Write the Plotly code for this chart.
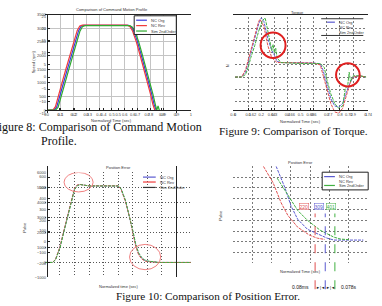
import plotly.graph_objects as go

W, H = 382, 306
def px(x): return x / W
def py(y): return 1 - y / H

# ---------------- Figure 8: command motion profile ----------------
sp_t_org = [0, 0.05, 0.07, 0.09, 0.12, 0.15, 0.18, 0.21, 0.24, 0.26, 0.28, 0.63, 0.65, 0.67, 0.70, 0.73, 0.76, 0.79, 0.81, 0.83, 0.845]
sp_org   = [0, 0, 120, 420, 950, 1450, 1950, 2450, 2900, 3070, 3100, 3100, 3050, 2900, 2500, 2000, 1500, 1000, 600, 200, 0]
sp_t_rev = [0, 0.04, 0.06, 0.08, 0.11, 0.14, 0.17, 0.20, 0.23, 0.25, 0.27, 0.62, 0.64, 0.66, 0.69, 0.72, 0.75, 0.78, 0.80, 0.82, 0.835]
sp_rev   = [0, 0, 130, 440, 980, 1480, 1980, 2480, 2920, 3080, 3110, 3110, 3060, 2910, 2510, 2010, 1510, 1010, 610, 210, 0]
sp_t_sim = [0, 0.06, 0.08, 0.10, 0.13, 0.16, 0.19, 0.22, 0.25, 0.27, 0.29, 0.64, 0.66, 0.68, 0.71, 0.74, 0.77, 0.80, 0.82, 0.84, 0.85, 0.86, 0.87]
sp_sim   = [0, 0, 100, 400, 920, 1420, 1920, 2420, 2880, 3050, 3090, 3090, 3040, 2890, 2490, 1990, 1490, 990, 590, 190, 0, 160, 0]
sp_ticks = [0, 500, 1000, 1500, 2000, 2500, 3000, 3500]

# ---------------- Figure 9: torque ----------------
tq_t_org = [0, 0.05, 0.08, 0.10, 0.12, 0.15, 0.18, 0.20, 0.22, 0.25, 0.28, 0.30, 0.32, 0.35, 0.40, 0.50, 0.60, 0.65, 0.67, 0.70, 0.73, 0.76, 0.79, 0.82, 0.85, 0.88, 0.90, 0.95, 1.0]
tq_org   = [0, 0, 2, 6, 10, 16, 22, 24.5, 23, 16, 11, 9, 6.5, 6, 6, 5.8, 5.8, 5.5, 3, -3, -9, -12, -12.5, -11, -6, -2, 0, 0.5, 0]
tq_t_rev = [0, 0.05, 0.08, 0.10, 0.12, 0.15, 0.18, 0.19, 0.22, 0.25, 0.28, 0.30, 0.32, 0.35, 0.40, 0.50, 0.60, 0.65, 0.67, 0.70, 0.73, 0.76, 0.79, 0.82, 0.85, 0.88, 0.90, 0.95, 1.0]
tq_rev   = [0, 0, 3, 7, 11, 18, 23, 24, 21, 13, 8, 7, 6, 6, 6, 5.8, 5.8, 5, 1, -5, -11, -14.5, -15, -13, -7, -2, 0, 0.5, 0]
tq_t_sim = [0, 0.05, 0.08, 0.10, 0.12, 0.15, 0.18, 0.21, 0.23, 0.25, 0.27, 0.28, 0.29, 0.30, 0.31, 0.32, 0.35, 0.40, 0.50, 0.60, 0.65, 0.68, 0.70, 0.73, 0.76, 0.79, 0.82, 0.84, 0.86, 0.87, 0.88, 0.90, 0.95, 1.0]
tq_sim   = [0, 0, 1, 4, 8, 13, 19, 23.5, 24.5, 19, 14, 11, 13.5, 10, 12, 8, 6, 5.8, 5.6, 5.6, 5.6, 4, -1, -7, -11, -13, -12, -5, -3, 2, -2, 0.5, 0.5, 0]
tq_ticks = [-15, -10, -5, 0, 5, 10, 15, 20, 25]

# ---------------- Figure 10: position error ----------------
pe_t_org = [0, 0.05, 0.07, 0.10, 0.13, 0.15, 0.17, 0.20, 0.22, 0.24, 0.27, 0.30, 0.50, 0.52, 0.55, 0.58, 0.60, 0.62, 0.64, 0.66, 0.68, 0.70, 0.75, 0.78, 1.0]
pe_org   = [0, 0, 200, 1000, 2200, 3000, 3900, 4900, 5150, 5200, 5150, 5100, 5100, 4900, 4100, 3000, 2100, 1200, 600, 300, 150, 80, 40, 0, 0]
pe_t_rev = [0, 0.05, 0.07, 0.10, 0.13, 0.15, 0.17, 0.20, 0.22, 0.24, 0.27, 0.30, 0.50, 0.52, 0.55, 0.58, 0.60, 0.62, 0.64, 0.66, 0.68, 0.70, 0.75, 0.78, 1.0]
pe_rev   = [0, 0, 220, 1050, 2250, 3050, 3950, 4950, 5180, 5200, 5150, 5110, 5110, 4880, 4050, 2950, 2000, 1100, 520, 250, 110, 50, 20, 0, 0]
pe_t_sim = [0, 0.05, 0.07, 0.10, 0.13, 0.15, 0.17, 0.20, 0.22, 0.24, 0.27, 0.30, 0.50, 0.52, 0.55, 0.58, 0.60, 0.62, 0.64, 0.66, 0.68, 0.70, 0.75, 0.78, 1.0]
pe_sim   = [0, 0, 180, 950, 2150, 2950, 3850, 4850, 5120, 5190, 5150, 5100, 5100, 4920, 4150, 3050, 2150, 1250, 650, 350, 180, 100, 50, 0, 0]
pe_ticks = [-1000, 0, 1000, 2000, 3000, 4000, 5000, 6000]

# ---------------- zoomed position error ----------------
zp_t_org = [0.6446, 0.6538, 0.6599, 0.667, 0.6771, 0.6903, 0.6974, 0.7045, 0.72, 0.735]
zp_org   = [700, 500, 335, 208, 116, 62, 34, 16, 16, 16]
zp_t_rev = [0.6314, 0.6416, 0.6497, 0.6568, 0.667, 0.6791, 0.6872, 0.695]
zp_rev   = [700, 545, 363, 244, 135, 62, 34, 22]
zp_t_sim = [0.6457, 0.6568, 0.667, 0.6771, 0.6903, 0.7045, 0.7116, 0.72]
zp_sim   = [590, 427, 290, 199, 107, 43, 25, 20]
zp_xticks = [0.6, 0.62, 0.64, 0.66, 0.68, 0.70, 0.72, 0.74]
zp_yticks = [-200, -100, 0, 100, 200, 300, 400, 500, 600]

names = ["NC Org", "NC Rev", "Sim 2ndOrder"]
C_BLUE, C_RED, C_GREEN = "#3a3ae0", "#f03c3c", "#2eaa2e"
C_BLUE2, C_RED2, C_GREEN2 = "#5a5ad0", "#e05050", "#40b040"

fig = go.Figure()
def add(x, y, name, color, n, dash="solid", w=1.2):
    fig.add_trace(go.Scatter(x=x, y=y, name=name, mode="lines",
                             line=dict(color=color, width=w, dash=dash),
                             xaxis="x" if n == 1 else f"x{n}",
                             yaxis="y" if n == 1 else f"y{n}",
                             showlegend=False))

add(sp_t_org, sp_org, names[0], C_BLUE, 1)
add(sp_t_rev, sp_rev, names[1], C_RED, 1)
add(sp_t_sim, sp_sim, names[2], C_GREEN, 1)
add(tq_t_org, tq_org, names[0], C_BLUE2, 2, "3px,1px", 1)
add(tq_t_rev, tq_rev, names[1], C_RED2, 2, "3px,1px", 1)
add(tq_t_sim, tq_sim, names[2], C_GREEN2, 2, "3px,1px", 1)
add(pe_t_org, pe_org, names[0], C_BLUE2, 3, "3px,1px", 1)
add(pe_t_rev, pe_rev, names[1], C_RED2, 3, "3px,1px", 1)
add(pe_t_sim, pe_sim, names[2], C_GREEN2, 3, "3px,1px", 1)
add(zp_t_org, zp_org, names[0], C_BLUE2, 4, "3px,1px", 1)
add(zp_t_rev, zp_rev, names[1], C_RED2, 4, "3px,1px", 1)
add(zp_t_sim, zp_sim, names[2], C_GREEN2, 4, "3px,1px", 1)

TF = dict(family="Liberation Sans", size=4, color="#444")
def axis(dom, rng, tickvals, grid_dash, gridcolor, ticktext=None):
    d = dict(domain=dom, range=rng, tickvals=tickvals, tickfont=TF,
             showgrid=True, gridcolor=gridcolor, griddash=grid_dash, gridwidth=1,
             showline=True, mirror=True, linecolor="#222", linewidth=1,
             ticks="inside", ticklen=2, tickcolor="#222", zeroline=False,
             ticklabelstandoff=0)
    if ticktext is not None:
        d["ticktext"] = ticktext
    return d

xt = [round(0.1 * i, 1) for i in range(11)]
xtt = ["0", "0.1", "0.2", "0.3", "0.4", "0.5", "0.6", "0.7", "0.8", "0.9", "1"]

fig.update_layout(
    width=W, height=H, margin=dict(l=0, r=0, t=0, b=0),
    paper_bgcolor="white", plot_bgcolor="white", showlegend=False,
    xaxis=axis([px(45.7), px(176.7)], [0, 1], xt, "solid", "#c4c4c4", xtt),
    yaxis=axis([py(109), py(11.7)], [0, 3500], sp_ticks, "solid", "#c4c4c4"),
    xaxis2=axis([px(237), px(371)], [0, 1], xt, "2px,2px", "#7a7a7a", xtt),
    yaxis2=axis([py(112), py(14)], [-15, 25], tq_ticks, "2px,2px", "#7a7a7a"),
    xaxis3=axis([px(43.3), px(192)], [0, 1], xt, "1px,2px", "#555", xtt),
    yaxis3=axis([py(279), py(172.3)], [-1000, 6000], pe_ticks, "1px,2px", "#555"),
    xaxis4=axis([px(235), px(373)], [0.6, 0.74], zp_xticks, "2px,2px", "#7a7a7a"),
    yaxis4=axis([py(264.7), py(166)], [-200, 700], zp_yticks, "2px,2px", "#7a7a7a"),
)

ann = []
shapes = []
def text(x, y, s, size=4, color="#333", family="Liberation Sans", xanchor="center", **kw):
    ann.append(dict(x=px(x), y=py(y), xref="paper", yref="paper", text=s, showarrow=False,
                    font=dict(family=family, size=size, color=color), xanchor=xanchor,
                    yanchor="middle", **kw))

# panel titles and axis labels
text(111, 7, "Comparison of Command Motion Profile")
text(111, 119, "Normalized Time (sec)")
text(31, 60, "Speed (rpm)", textangle=-90)
text(301, 10, "Torque")
text(304, 120.5, "Normalized Time (sec)")
text(230, 64, "N", textangle=-90)
text(118, 167, "Position Error")
text(118, 288, "Normalized time (sec)")
text(22, 228, "Pulse", textangle=-90)
text(304, 162, "Position Error")
text(304, 273, "Normalized Time (sec)")
text(222, 216, "Pulse", textangle=-90)

# captions
SERIF = "Liberation Serif"
text(96, 126, "Figure 8: Comparison of Command Motion", size=12, color="#111", family=SERIF)
text(57, 140, "Profile.", size=12, color="#111", family=SERIF)
text(297, 130, "Figure 9: Comparison of Torque.", size=11.3, color="#111", family=SERIF)
text(209.5, 298, "Figure 10: Comparison of Position Error.", size=11.2, color="#111", family=SERIF)

# legends (drawn as keys)
def legend(x0, y0, x1, y1, rows, colors, line_x0, line_x1, text_x, box=True):
    if box:
        shapes.append(dict(type="rect", xref="paper", yref="paper", x0=px(x0), x1=px(x1),
                           y0=py(y1), y1=py(y0), line=dict(color="#222", width=1), fillcolor="white"))
    for (ry, label), c in zip(rows, colors):
        if c:
            shapes.append(dict(type="line", xref="paper", yref="paper", x0=px(line_x0), x1=px(line_x1),
                               y0=py(ry), y1=py(ry), line=dict(color=c, width=1.2)))
        text(text_x, ry, label, xanchor="left")

legend(134, 13, 177, 32, [(17.5, names[0]), (23, names[1]), (28.5, names[2])],
       [C_BLUE, C_RED, C_GREEN], 136, 147, 149)
for yy in (16, 33):
    shapes.append(dict(type="line", xref="paper", yref="paper", x0=px(325), x1=px(368),
                       y0=py(yy), y1=py(yy), line=dict(color="#333", width=1)))
legend(0, 0, 0, 0, [(19.5, names[0]), (24.5, names[1]), (29.5, names[2])],
       [C_BLUE2, None, None], 331, 339, 341, box=False)
legend(0, 0, 0, 0, [(177, names[0]), (182, names[1]), (187.5, names[2])],
       [C_BLUE2, C_RED, "#333"], 143, 156, 158, box=False)
legend(326, 172, 373, 190, [(176.5, names[0]), (181, names[1]), (185.5, names[2])],
       [C_BLUE2, None, C_GREEN2], 328, 339, 341)

# red circles on torque plot
for cx, cy, rx, ry in [(0.29, 13.2, 0.095, 5.3), (0.86, 0.9, 0.09, 4.8)]:
    shapes.append(dict(type="circle", xref="x2", yref="y2", x0=cx - rx, x1=cx + rx,
                       y0=cy - ry, y1=cy + ry, line=dict(color="#e02020", width=2)))
# ellipses on position error
for cx, cy, rx, ry in [(0.228, 5352, 0.10, 650), (0.685, 361, 0.107, 843)]:
    shapes.append(dict(type="circle", xref="x3", yref="y3", x0=cx - rx, x1=cx + rx,
                       y0=cy - ry, y1=cy + ry, line=dict(color="#f08080", width=1)))

# settling markers on zoomed plot
marks = [(0.685, "220", C_RED2), (0.6955, "309", C_BLUE2), (0.7055, "401", C_GREEN2)]
for xm, lab, c in marks:
    shapes.append(dict(type="line", xref="x4", yref="paper", x0=xm, x1=xm,
                       y0=py(291), y1=py(214), line=dict(color=c, width=1, dash="dash")))
for (xm, lab, c), xx in zip(marks, (313, 328, 340)):
    ann.append(dict(x=px(xx), y=py(210), xref="paper", yref="paper", text=lab, showarrow=False,
                    font=dict(family="Liberation Sans", size=5, color=c),
                    bordercolor=c, borderwidth=0.5, borderpad=0, bgcolor="white"))
text(304, 289, "0.08ms", size=5, color="#111")
text(353, 289, "0.078s", size=5, color="#111")
text(329, 289, "►|◄ ►|◄", size=4, color="#111")

fig.update_layout(annotations=ann, shapes=shapes)
fig.write_html("out.html")
